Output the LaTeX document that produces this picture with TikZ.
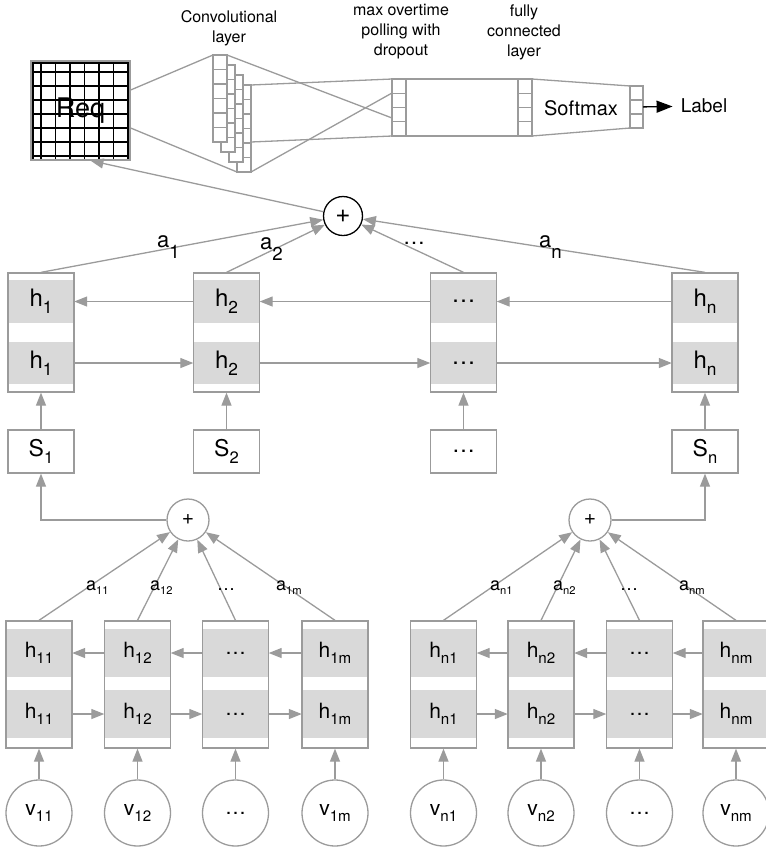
\documentclass[tikz,border=0pt]{standalone}
\usepackage{fontspec}
\setmainfont{TeX Gyre Heros}
\usepackage{graphicx}
\usetikzlibrary{arrows.meta,calc}

\definecolor{linegray}{HTML}{9B9B9B}
\definecolor{bandgray}{HTML}{D9D9D9}

% lowered index, as in h_1
\newcommand{\idx}[2][0.28em]{\raisebox{-#1}{\scalebox{0.72}{#2}}}
\newcommand{\tidx}[1]{\raisebox{-0.25em}{\scalebox{0.62}{#1}}}
\newcommand{\aidx}[1]{\raisebox{-0.5em}{\scalebox{0.85}{#1}}}

% dividers of a column of cells
\newcommand{\cellrows}[2]{%
  \pgfmathtruncatemacro{\lastrow}{#2-1}%
  \foreach \j in {1,...,\lastrow}
    \draw[ln] ($(#1.north west)!\j/#2!(#1.south west)$) -- ($(#1.north east)!\j/#2!(#1.south east)$);%
}

\tikzset{
  ln/.style={draw=linegray, line width=1.3pt},
  arr/.style={ln, color=linegray, -{Triangle[length=13pt,width=10pt]}},
  hbox/.style={draw=linegray, line width=1.3pt, minimum width=66pt, inner sep=0pt},
  band/.style={fill=bandgray, minimum width=66pt, inner sep=0pt},
  sbox/.style={draw=linegray, line width=1.3pt, minimum width=66pt, minimum height=43pt, inner sep=0pt, font=\fontsize{23}{27}\selectfont},
  vcirc/.style={circle, draw=linegray, line width=1.3pt, minimum size=66pt, inner sep=0pt, font=\fontsize{21}{25}\selectfont},
  cellcol/.style={draw=linegray, fill=white, line width=1.2pt, minimum width=14pt, inner sep=0pt, outer sep=0pt},
  head/.style={align=center, font=\fontsize{16}{20}\selectfont},
  alab/.style={anchor=base west, inner sep=0pt, font=\fontsize{22}{26}\selectfont},
  blab/.style={anchor=base west, inner sep=0pt, font=\fontsize{18}{22}\selectfont}
}

\begin{document}
\begin{tikzpicture}[x=1pt,y=-1pt]
\clip (0,0) rectangle (766,852);

% Req matrix
\foreach \x in {33,41,55.5,70,84.5,99,113.5,128}
  \draw[line width=1.3pt] (\x,61) -- (\x,160);
\foreach \y in {63,72,86,100,114,128,142,156}
  \draw[line width=1.3pt] (31,\y) -- (130,\y);
\node[draw=linegray, line width=1.3pt, minimum size=99pt, inner sep=0pt, font=\fontsize{27}{32}\selectfont] (req) at (80.5,110.5) {Req};

% Convolutional layer
\node[head] (convtxt) at (229,28) {Convolutional\\layer};
\coordinate (cvtl) at (213,55);
\coordinate (cvbl) at (237,172);
\draw[ln] ([yshift=20.5pt]req.east) -- (cvtl);
\draw[ln] ([yshift=-17.5pt]req.east) -- (cvbl);
\foreach \k in {3,2,1,0} {
  \node[cellcol, minimum height=87pt] (cv\k) at ({220+8*\k},{98.5+10*\k}) {};
  \cellrows{cv\k}{6}
}

% max pooling, fully connected, softmax
\node[head] (pooltxt) at (401,32) {max overtime\\polling with\\dropout};
\node[head] (fctxt) at (524,32) {fully\\connected\\layer};
\node[cellcol, minimum height=57pt] (pool) at (399,107.5) {};
\cellrows{pool}{4}
\draw[ln] (cv0.north east) -- ([yshift=-10.5pt]pool.west);
\draw[ln] (cv3.south east) -- ([yshift=14.5pt]pool.west);
\draw[ln] (cv3.north east) -- (pool.north west);
\draw[ln] ([yshift=-13.5pt]cv3.east) -- (pool.south west);
\node[draw=linegray, line width=1.3pt, minimum width=112pt, minimum height=57pt, inner sep=0pt] (drop) at (462,107.5) {};
\node[cellcol, minimum height=57pt] (fc) at (525,107.5) {};
\cellrows{fc}{4}
\node[cellcol, minimum width=13pt, minimum height=42pt] (smc) at (636.5,107) {};
\cellrows{smc}{3}
\draw[ln] (fc.north east) -- (smc.north west);
\draw[ln] (fc.south east) -- (smc.south west);
\node[font=\fontsize{20}{24}\selectfont] (smtxt) at (581,108) {Softmax};
\node[font=\fontsize{19}{23}\selectfont, inner sep=8pt] (lbl) at (704,106) {Label};
\draw[line width=1.3pt, -{Triangle[length=16pt,width=12pt]}] (smc) -- (lbl);

% Sentence level
\node[circle, draw, line width=1.3pt, minimum size=39pt, inner sep=0pt, font=\fontsize{26}{30}\selectfont] (tplus) at (343,216) {+};
\draw[arr] (tplus) -- ([xshift=10pt]req.south);
\foreach \i/\x/\lab/\slab in {1/41/h\idx{1}/S\idx{1}, 2/226.5/h\idx{2}/S\idx{2}, 3/463.5/\dots/\dots, 4/705/h\idx{n}/S\idx{n}} {
  \node[band, minimum height=43pt, font=\fontsize{24}{28}\selectfont] (hu\i) at (\x,301.5) {\lab};
  \node[band, minimum height=42pt, font=\fontsize{24}{28}\selectfont] (hl\i) at (\x,363) {\lab};
  \node[hbox, minimum height=119pt] (hb\i) at (\x,332.5) {};
  \node[sbox] (s\i) at (\x,451.5) {\slab};
  \draw[arr] (s\i) -- (hb\i);
  \draw[arr] (hb\i.north) -- (tplus);
}
\foreach \i/\j in {1/2,2/3,3/4} {
  \draw[arr] (hu\j.west) -- (hu\i.east);
  \draw[arr] (hl\i.east) -- (hl\j.west);
}
\node[alab] (a1) at (157,247) {a\aidx{1}};
\node[alab] (a2) at (260,249) {a\aidx{2}};
\node[alab] (a3) at (403,244) {\dots};
\node[alab] (a4) at (539,247) {a\aidx{n}};

% Word level
\node[circle, draw=linegray, line width=1.3pt, minimum size=42pt, inner sep=0pt, font=\fontsize{21}{25}\selectfont] (lplus) at (188,520) {+};
\node[circle, draw=linegray, line width=1.3pt, minimum size=42pt, inner sep=0pt, font=\fontsize{21}{25}\selectfont] (rplus) at (590,520) {+};
\draw[arr] (lplus) -| (s1);
\draw[arr] (rplus) -| (s4);
\foreach \i/\x/\lab/\vlab in {1/39/h\idx{11}/v\idx{11}, 2/137.5/h\idx{12}/v\idx{12}, 3/235.5/\dots/\dots, 4/335/h\idx{1m}/v\idx{1m},
    5/443.5/h\idx{n1}/v\idx{n1}, 6/541/h\idx{n2}/v\idx{n2}, 7/639.5/\dots/\dots, 8/736/h\idx{nm}/v\idx{nm}} {
  \node[band, minimum height=48pt, font=\fontsize{21}{25}\selectfont] (wu\i) at (\x,653) {\lab};
  \node[band, minimum height=48pt, font=\fontsize{21}{25}\selectfont] (wl\i) at (\x,714) {\lab};
  \node[hbox, minimum height=127pt] (w\i) at (\x,684.5) {};
  \node[vcirc] (v\i) at (\x,813) {\vlab};
  \draw[arr] (v\i) -- (w\i);
}
\foreach \i/\j in {1/2,2/3,3/4,5/6,6/7,7/8} {
  \draw[arr] (wu\j.west) -- (wu\i.east);
  \draw[arr] (wl\i.east) -- (wl\j.west);
}
\foreach \i in {1,...,4}
  \draw[arr] (w\i.north) -- (lplus);
\foreach \i in {5,...,8}
  \draw[arr] (w\i.north) -- (rplus);
\node[blab] (b1) at (86,590) {a\tidx{11}};
\node[blab] (b2) at (150,590) {a\tidx{12}};
\node[blab] (b3) at (217,590) {\dots};
\node[blab] (b4) at (276,590) {a\tidx{1m}};
\node[blab] (b5) at (490,590) {a\tidx{n1}};
\node[blab] (b6) at (553,590) {a\tidx{n2}};
\node[blab] (b7) at (620,590) {\dots};
\node[blab] (b8) at (679,590) {a\tidx{nm}};

\end{tikzpicture}
\end{document}
